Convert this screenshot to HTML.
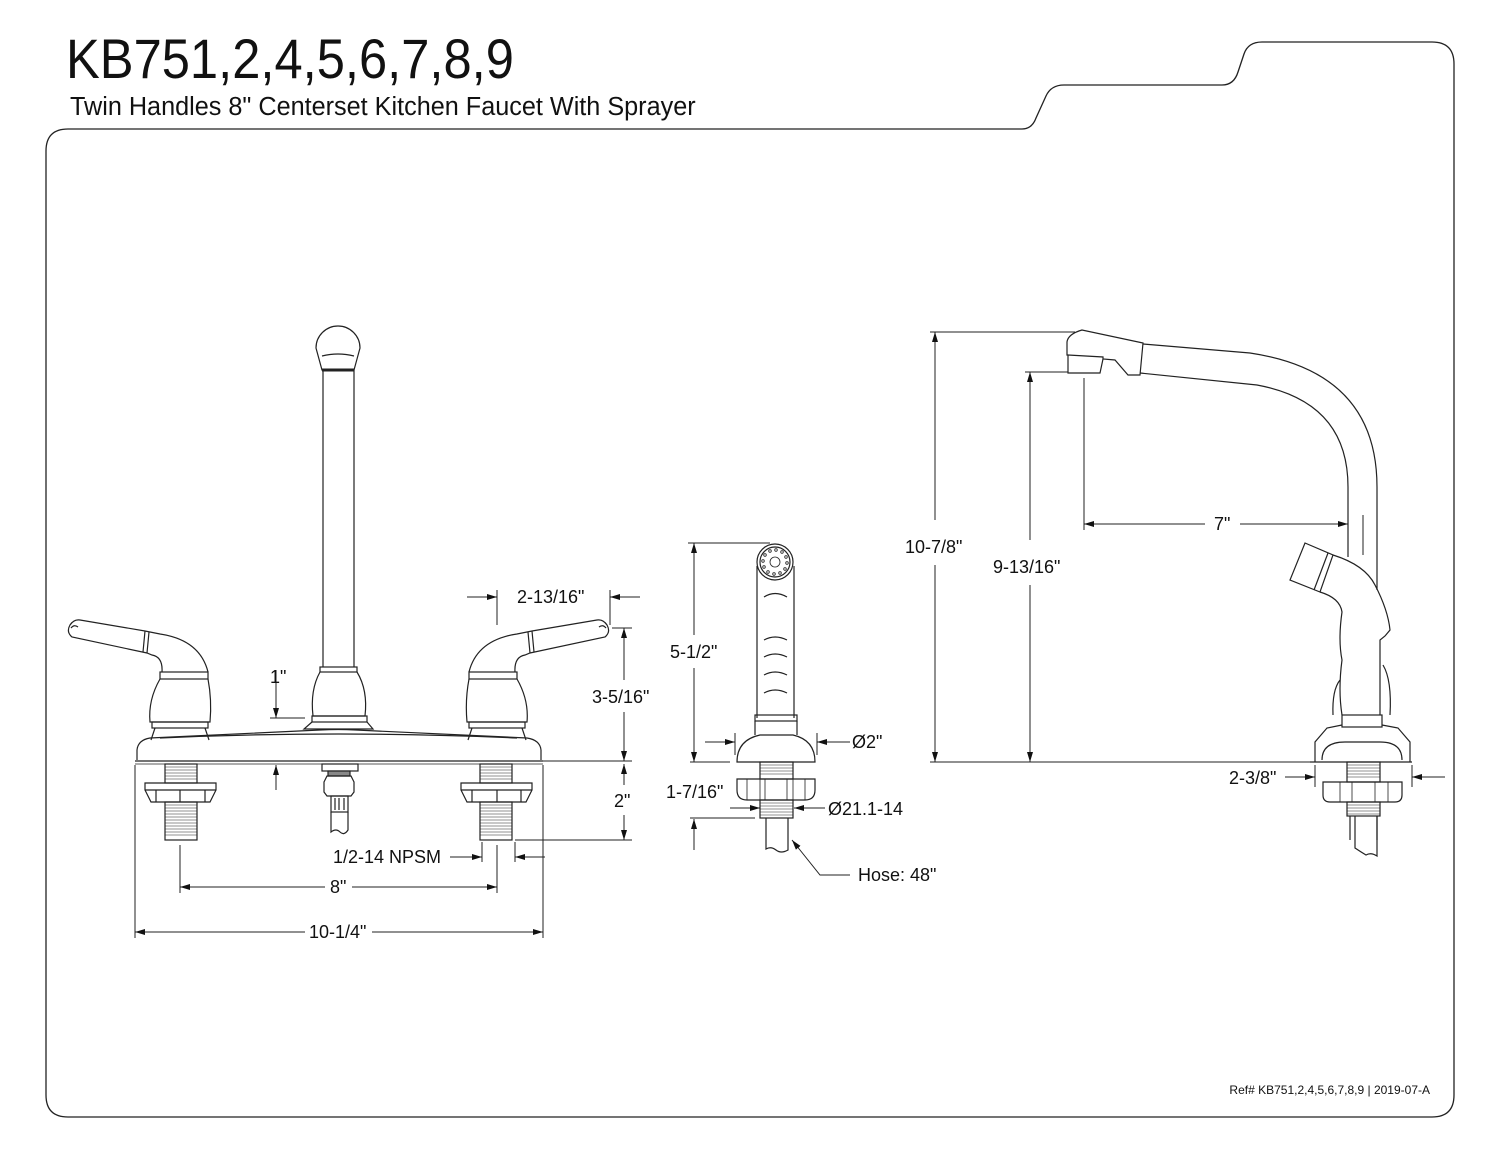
<!DOCTYPE html>
<html><head><meta charset="utf-8"><style>
html,body{margin:0;padding:0;background:#fff;}
svg{display:block;}
text{font-family:"Liberation Sans",sans-serif;fill:#111;}
</style></head><body>
<svg width="1500" height="1159" viewBox="0 0 1500 1159" xmlns="http://www.w3.org/2000/svg">
<defs>
<marker id="a" viewBox="0 0 10 6" refX="10" refY="3" markerWidth="10" markerHeight="6" markerUnits="userSpaceOnUse" orient="auto"><path d="M0,0 L10,3 L0,6 Z" fill="#111"/></marker>
</defs>
<!-- frame -->
<path d="M68,129 L1022,129 Q1032,129 1036,118 L1046,96 Q1051,85 1064,85 L1222,85 Q1234,85 1238,72 L1244,54 Q1248,42 1262,42 L1432,42 Q1454,42 1454,64 L1454,1095 Q1454,1117 1432,1117 L68,1117 Q46,1117 46,1095 L46,151 Q46,129 68,129 Z" fill="none" stroke="#222" stroke-width="1.3"/>
<text x="66" y="78" font-size="56" transform="translate(66,0) scale(0.905,1) translate(-66,0)">KB751,2,4,5,6,7,8,9</text>
<text x="70" y="115" font-size="26" transform="translate(70,0) scale(0.97,1) translate(-70,0)">Twin Handles 8" Centerset Kitchen Faucet With Sprayer</text>
<text x="1430" y="1094" font-size="12" text-anchor="end">Ref# KB751,2,4,5,6,7,8,9 | 2019-07-A</text>

<g fill="none" stroke="#222" stroke-width="1.2">
<!-- ===== LEFT FAUCET ===== -->
<path d="M137,760 L137,750 Q138,740 150,738 L320,730 Q338,729 356,730 L527,738 Q540,740 541,750 L541,760"/>
<path d="M160,738 Q338,730 517,738"/>
<line x1="135" y1="761" x2="543" y2="761"/>
<line x1="135" y1="764" x2="543" y2="764" stroke-width="0.8"/>
<path d="M316,348 A22,22 0 0 1 360,348 L354,370 L322,370 Z"/>
<path d="M322,356 Q338,352 354,356" />
<line x1="322" y1="370" x2="354" y2="370" stroke-width="3"/>
<line x1="323" y1="370" x2="323" y2="667"/><line x1="354" y1="370" x2="354" y2="667"/>
<rect x="320" y="667" width="37" height="5"/>
<path d="M320,672 Q310,690 313,716 L365,716 Q368,690 357,672"/>
<rect x="312" y="716" width="55" height="6"/>
<path d="M312,722 L304,729 L373,729 L367,722"/>
<rect x="322" y="764" width="36" height="7"/>
<rect x="328" y="771" width="22" height="5" fill="#888"/>
<path d="M327,776 L351,776 L354,782 L354,792 L351,796 L327,796 L324,792 L324,782 Z"/>
<rect x="331" y="796" width="17" height="16"/>
<line x1="335" y1="798" x2="335" y2="810"/><line x1="339" y1="798" x2="339" y2="810"/><line x1="344" y1="798" x2="344" y2="810"/>
<path d="M331,812 L331,832 Q336,828 340,832 Q344,836 348,830 L348,812"/>
<g id="h">
<path d="M162,672 Q163,657 152,655 L147,653 L72,637 Q66,632 70,625 Q74,619 80,620 L145,631 L160,634 Q200,640 208,672"/>
<path d="M145,631 L143,652 M149,632 L147,653"/>
<path d="M71,628 Q74,624 78,627"/>
<rect x="160" y="672" width="48" height="7"/>
<path d="M160,679 Q148,700 150,722 L210,722 Q212,700 208,679"/>
<rect x="152" y="722" width="56" height="6"/>
<path d="M155,728 L151,740 M205,728 L209,740"/>
<rect x="165" y="764" width="32" height="19"/>
<path d="M145,783 L216,783 L216,790 L210,802 L151,802 L145,790 Z"/>
<line x1="145" y1="790" x2="216" y2="790"/>
<line x1="180" y1="790" x2="180" y2="802"/>
<line x1="156" y1="790" x2="156" y2="802"/><line x1="205" y1="790" x2="205" y2="802"/>
<rect x="165" y="802" width="32" height="38"/>
<path d="M165,767h32M165,770h32M165,773h32M165,776h32M165,779h32M165,805h32M165,808h32M165,811h32M165,814h32M165,817h32M165,820h32M165,823h32M165,826h32M165,829h32M165,832h32M165,835h32" stroke-width="0.6"/>
</g>
<use href="#h" transform="translate(677,0) scale(-1,1)"/>
</g>

<g fill="none" stroke="#222" stroke-width="1">
<line x1="276" y1="670" x2="276" y2="718" marker-end="url(#a)"/>
<line x1="270" y1="718" x2="305" y2="718"/>
<line x1="276" y1="790" x2="276" y2="765" marker-end="url(#a)"/>
<line x1="497" y1="590" x2="497" y2="625"/>
<line x1="610" y1="590" x2="610" y2="625"/>
<line x1="467" y1="597" x2="497" y2="597" marker-end="url(#a)"/>
<line x1="640" y1="597" x2="610" y2="597" marker-end="url(#a)"/>
<line x1="612" y1="628" x2="632" y2="628"/>
<line x1="624" y1="680" x2="624" y2="628" marker-end="url(#a)"/>
<line x1="624" y1="712" x2="624" y2="761" marker-end="url(#a)"/>
<line x1="543" y1="761" x2="632" y2="761"/>
<line x1="624" y1="785" x2="624" y2="764" marker-end="url(#a)"/>
<line x1="624" y1="815" x2="624" y2="840" marker-end="url(#a)"/>
<line x1="515" y1="840" x2="632" y2="840"/>
<line x1="450" y1="857" x2="482" y2="857" marker-end="url(#a)"/>
<line x1="545" y1="857" x2="515" y2="857" marker-end="url(#a)"/>
<line x1="482" y1="842" x2="482" y2="862"/>
<line x1="515" y1="842" x2="515" y2="862"/>
<line x1="180" y1="845" x2="180" y2="893"/>
<line x1="497" y1="845" x2="497" y2="893"/>
<line x1="325" y1="887" x2="180" y2="887" marker-end="url(#a)"/>
<line x1="352" y1="887" x2="497" y2="887" marker-end="url(#a)"/>
<line x1="135" y1="765" x2="135" y2="938"/>
<line x1="543" y1="765" x2="543" y2="938"/>
<line x1="305" y1="932" x2="135" y2="932" marker-end="url(#a)"/>
<line x1="372" y1="932" x2="543" y2="932" marker-end="url(#a)"/>
</g>
<g font-size="18">
<text x="270" y="683">1"</text>
<text x="517" y="603">2-13/16"</text>
<text x="592" y="703">3-5/16"</text>
<text x="614" y="807">2"</text>
<text x="333" y="863">1/2-14 NPSM</text>
<text x="330" y="893">8"</text>
<text x="309" y="938">10-1/4"</text>
</g>

<!-- ===== SPRAYER ===== -->
<g fill="none" stroke="#222" stroke-width="1.2">
<circle cx="775" cy="562" r="18"/>
<circle cx="775" cy="562" r="15"/>
<g fill="none" stroke-width="0.8">
<circle cx="775" cy="562" r="5"/>
<circle cx="765" cy="555" r="1.3"/><circle cx="770" cy="551" r="1.3"/><circle cx="776" cy="550" r="1.3"/><circle cx="782" cy="552" r="1.3"/><circle cx="786" cy="557" r="1.3"/><circle cx="787" cy="563" r="1.3"/><circle cx="785" cy="569" r="1.3"/><circle cx="780" cy="573" r="1.3"/><circle cx="774" cy="574" r="1.3"/><circle cx="768" cy="572" r="1.3"/><circle cx="764" cy="567" r="1.3"/><circle cx="763" cy="561" r="1.3"/>
</g>
<path d="M757,566 L757,718 M794,566 L794,718"/>
<path d="M764,597 Q775,590 787,597 M764,640 Q775,634 787,640 M764,657 Q775,651 787,657 M764,675 Q775,669 787,675 M764,693 Q775,687 787,693"/>
<rect x="755" y="715" width="42" height="6"/>
<path d="M755,721 L755,735 M797,721 L797,735"/>
<path d="M737,762 Q737,740 760,735 L793,735 Q815,740 815,762 Z"/>
<rect x="760" y="762" width="33" height="17"/>
<path d="M737,779 L815,779 L815,790 Q815,800 805,800 L747,800 Q737,800 737,790 Z"/>
<path d="M760,779v21M765,779v21M787,779v21M793,779v21M747,779v21M805,779v21" stroke-width="0.8"/>
<rect x="760" y="800" width="33" height="18"/>
<path d="M760,765h33M760,768h33M760,771h33M760,774h33M760,803h33M760,806h33M760,809h33M760,812h33M760,815h33" stroke-width="0.6"/>
<path d="M766,818 L766,849 Q771,846 776,850 Q781,854 788,850 L788,818"/>
</g>
<g fill="none" stroke="#222" stroke-width="1">
<line x1="688" y1="543" x2="770" y2="543"/>
<line x1="694" y1="635" x2="694" y2="543" marker-end="url(#a)"/>
<line x1="694" y1="668" x2="694" y2="762" marker-end="url(#a)"/>
<line x1="690" y1="762" x2="730" y2="762"/>
<line x1="735" y1="733" x2="735" y2="755"/><line x1="817" y1="733" x2="817" y2="755"/>
<line x1="705" y1="742" x2="735" y2="742" marker-end="url(#a)"/>
<line x1="850" y1="742" x2="817" y2="742" marker-end="url(#a)"/>
<line x1="690" y1="818" x2="755" y2="818"/>
<line x1="694" y1="850" x2="694" y2="819" marker-end="url(#a)"/>
<line x1="730" y1="808" x2="760" y2="808" marker-end="url(#a)"/>
<line x1="825" y1="808" x2="794" y2="808" marker-end="url(#a)"/>
<path d="M850,875 L820,875 L792,840" marker-end="url(#a)"/>
</g>
<g font-size="18">
<text x="670" y="658">5-1/2"</text>
<text x="852" y="748">Ø2"</text>
<text x="666" y="798">1-7/16"</text>
<text x="828" y="815">Ø21.1-14</text>
<text x="858" y="881">Hose: 48"</text>
</g>

<!-- ===== RIGHT FAUCET ===== -->
<g fill="none" stroke="#222" stroke-width="1.2">
<path d="M1067,355 L1067,342 Q1068,334 1082,330 L1143,343 L1140,375 L1128,375 L1115,360 L1103,359 L1103,357 L1068,355 Z"/>
<path d="M1068,355 L1068,373 L1100,373 L1103,359"/>
<path d="M1143,344 L1250,353 Q1377,372 1377,487 L1377,590"/>
<path d="M1140,373 L1257,385 Q1348,402 1348,487 L1348,557"/>
<path d="M1305,543 L1333,555 L1320,592 L1290,580 Z"/>
<path d="M1328,553 L1314,590"/>
<path d="M1333,555 Q1365,565 1375,585 Q1388,610 1390,630 L1385,636 L1380,640 L1380,715"/>
<path d="M1320,592 Q1340,598 1342,612 Q1338,640 1342,660 Q1338,690 1342,715"/>
<path d="M1340,680 Q1332,690 1333,715 M1383,665 Q1392,680 1390,715"/>
<rect x="1342" y="715" width="40" height="12"/>
<path d="M1315,762 L1315,742 L1327,728 L1342,725 M1382,725 L1398,728 L1410,742 L1410,762"/>
<path d="M1322,760 Q1322,742 1345,742 L1380,742 Q1402,742 1402,760"/>
<line x1="1310" y1="762" x2="1412" y2="762"/>
<rect x="1347" y="762" width="33" height="20"/>
<path d="M1323,782 L1402,782 L1402,795 Q1402,802 1395,802 L1330,802 Q1323,802 1323,795 Z"/>
<path d="M1340,782v20M1352,782v20M1375,782v20M1388,782v20" stroke-width="0.8"/>
<rect x="1347" y="802" width="33" height="14"/>
<path d="M1347,765h33M1347,768h33M1347,771h33M1347,774h33M1347,777h33M1347,805h33M1347,808h33M1347,811h33M1347,814h33" stroke-width="0.6"/>
<path d="M1350,816 L1350,840 M1377,816 L1377,840"/>
<path d="M1355,816 L1355,848 Q1361,852 1366,855 Q1371,852 1377,856 L1377,816"/>
</g>
<g fill="none" stroke="#222" stroke-width="1">
<line x1="930" y1="332" x2="1075" y2="332"/>
<line x1="935" y1="520" x2="935" y2="332" marker-end="url(#a)"/>
<line x1="935" y1="565" x2="935" y2="762" marker-end="url(#a)"/>
<line x1="1025" y1="372" x2="1068" y2="372"/>
<line x1="1030" y1="540" x2="1030" y2="372" marker-end="url(#a)"/>
<line x1="1030" y1="585" x2="1030" y2="762" marker-end="url(#a)"/>
<line x1="930" y1="762" x2="1312" y2="762"/>
<line x1="1084" y1="378" x2="1084" y2="530"/>
<line x1="1363" y1="515" x2="1363" y2="555"/>
<line x1="1205" y1="524" x2="1084" y2="524" marker-end="url(#a)"/>
<line x1="1240" y1="524" x2="1348" y2="524" marker-end="url(#a)"/>
<line x1="1315" y1="765" x2="1315" y2="787"/><line x1="1412" y1="765" x2="1412" y2="787"/>
<line x1="1285" y1="777" x2="1315" y2="777" marker-end="url(#a)"/>
<line x1="1445" y1="777" x2="1412" y2="777" marker-end="url(#a)"/>
</g>
<g font-size="18">
<text x="905" y="553">10-7/8"</text>
<text x="993" y="573">9-13/16"</text>
<text x="1214" y="530">7"</text>
<text x="1229" y="784">2-3/8"</text>
</g>
</svg>
</body></html>
